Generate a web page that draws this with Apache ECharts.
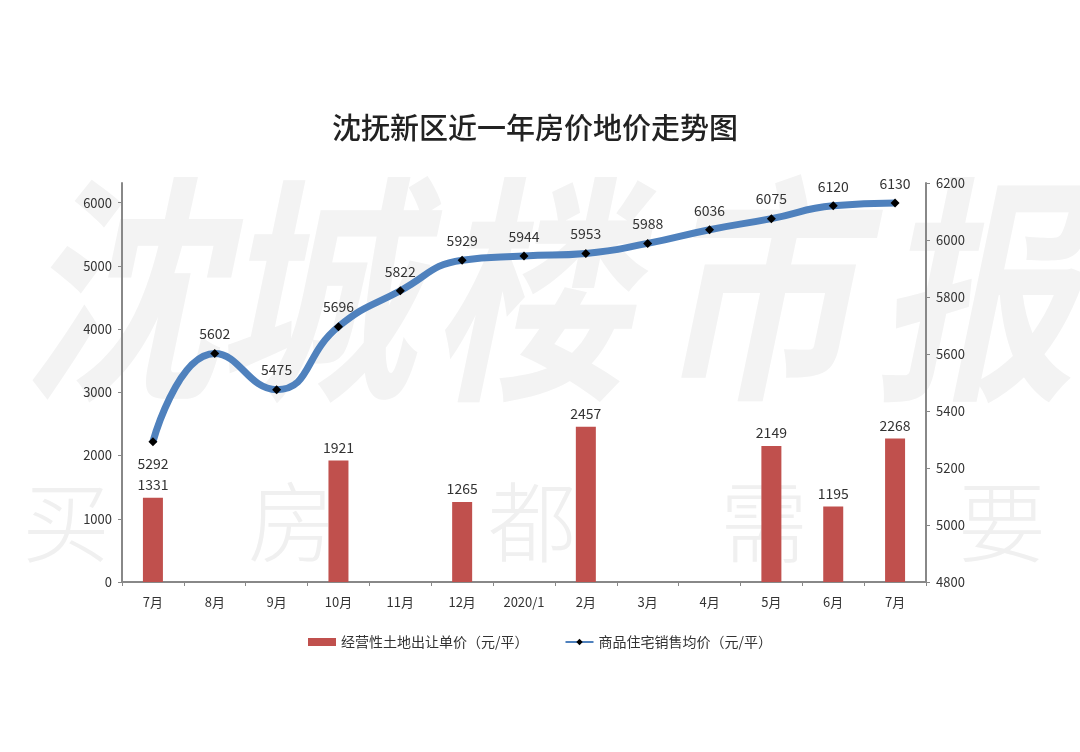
<!DOCTYPE html>
<html><head><meta charset="utf-8">
<script src="https://cdn.jsdelivr.net/npm/echarts@6/dist/echarts.min.js"></script>
<style>html,body{margin:0;padding:0;background:#fff}#c{width:1080px;height:752px}</style>
</head><body><div id="c"></div>
<script>
const categories = ['7月','8月','9月','10月','11月','12月','2020/1','2月','3月','4月','5月','6月','7月'];
const landPrice = [1331, null, null, 1921, null, 1265, null, 2457, null, null, 2149, 1195, 2268];
const housePrice = [5292, 5602, 5475, 5696, 5822, 5929, 5944, 5953, 5988, 6036, 6075, 6120, 6130];
const title = '沈抚新区近一年房价地价走势图';
const barName = '经营性土地出让单价（元/平）';
const lineName = '商品住宅销售均价（元/平）';
const watermarkTop = ['沈','城','楼','市','报'];
const watermarkBottom = ['买','房','都','需','要'];

const font = '"Noto Sans CJK SC", "Noto Sans", sans-serif';
const chart = echarts.init(document.getElementById('c'), null, {renderer:'canvas'});

const wmTopX = [20, 215, 430, 655, 875];
const wmBotX = [22, 248, 488, 720, 958];
const graphics = [];
watermarkTop.forEach((t,i)=>graphics.push({type:'text', x: wmTopX[i], y: 170, scaleY:1.2, z: -10, silent:true,
  style:{text:t, font:'italic bold 200px ' + font, fill:'#f3f3f3'}}));
watermarkBottom.forEach((t,i)=>graphics.push({type:'text', left: wmBotX[i], top: 478, z: -10, silent:true,
  style:{text:t, font:'300 88px ' + font, fill:'#f0f0f0'}}));

const plain = v => String(v);

chart.setOption({
  backgroundColor:'#fff',
  textStyle:{fontFamily:font},
  graphic: graphics,
  title:{text:title, left:530, textAlign:'center', top:108,
    textStyle:{fontSize:29, fontWeight:500, color:'#222', fontFamily:font}},
  legend:{bottom:98, left:'center', itemGap:36, itemWidth:28, itemHeight:8,
    textStyle:{fontSize:14, color:'#333'},
    data:[{name:barName, icon:'rect'}, {name:lineName}]},
  grid:{left:122, right:154, top:183, bottom:170},
  xAxis:{type:'category', data:categories, boundaryGap:true,
    axisLine:{lineStyle:{color:'#888', width:2}},
    axisTick:{show:true, alignWithLabel:false, length:4, lineStyle:{color:'#888'}},
    axisLabel:{fontSize:13, color:'#333', margin:14}},
  yAxis:[
    {type:'value', min:0, max:6310, interval:1000, splitLine:{show:false},
      axisLine:{show:true, lineStyle:{color:'#888', width:2}},
      axisTick:{show:true, length:4, lineStyle:{color:'#888'}},
      axisLabel:{fontSize:13, color:'#333', showMaxLabel:false, margin:10, formatter:plain}},
    {type:'value', min:4800, max:6200, interval:200, splitLine:{show:false},
      axisLine:{show:true, lineStyle:{color:'#888', width:2}},
      axisTick:{show:true, length:4, lineStyle:{color:'#888'}},
      axisLabel:{fontSize:13, color:'#333', margin:10, formatter:plain}}
  ],
  series:[
    {name:barName, type:'bar', data:landPrice, barWidth:20, yAxisIndex:0,
      itemStyle:{color:'#C0504D'},
      label:{show:true, position:'top', fontSize:14, color:'#333', distance:6}},
    {name:lineName, type:'line', yAxisIndex:1, smooth:0.5,
      lineStyle:{color:'#4F81BD', width:7}, itemStyle:{color:'#000'},
      symbol:'diamond', symbolSize:9, z:5,
      label:{show:true, position:'top', fontSize:14, color:'#333', distance:8},
      data: housePrice.map((v,i)=> i===0 ? {value:v, label:{position:'bottom', distance:10}} : v)}
  ]
});
</script></body></html>
